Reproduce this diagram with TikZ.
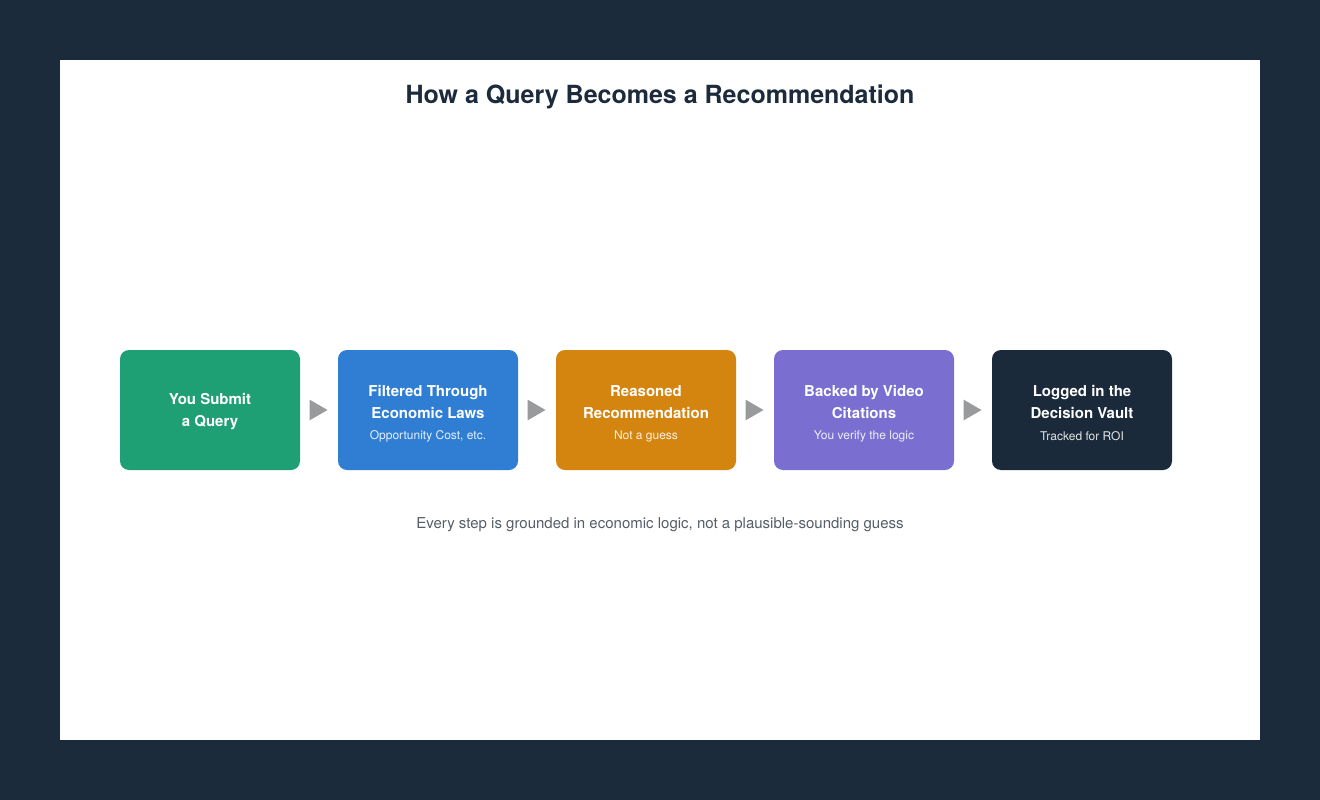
\documentclass[tikz,border=0pt]{standalone}
\usepackage{fontspec}
\setmainfont{TeX Gyre Heros}
\usetikzlibrary{shapes.geometric}
\definecolor{navy}{HTML}{1C2B3B}
\definecolor{cgreen}{HTML}{1F9F74}
\definecolor{cblue}{HTML}{2F7ED4}
\definecolor{corange}{HTML}{D4850F}
\definecolor{cpurple}{HTML}{7A6FD1}
\definecolor{cdark}{HTML}{1B2A3B}
\definecolor{arrowgray}{HTML}{999A9C}
\definecolor{capgray}{HTML}{555E68}
\tikzset{
  stepbox/.style={rounded corners=9pt, minimum width=180pt, minimum height=120pt, inner sep=0pt, text=white, align=center},
  maintxt/.style={font=\fontsize{15}{22}\selectfont\bfseries, text=white, align=center},
  subtxt/.style={font=\fontsize{12}{14}\selectfont, text=white, opacity=0.88},
  arrowtri/.style={isosceles triangle, isosceles triangle apex angle=60, fill=arrowgray, minimum height=18pt, inner sep=0pt, draw=none, xshift=-3.5pt}
}
\begin{document}
\begin{tikzpicture}[x=1pt,y=-1pt]
\useasboundingbox (0,0) rectangle (1320,800);
\fill[navy] (0,0) rectangle (1320,800);
\fill[white] (60,60) rectangle (1260,740);
\node[font=\fontsize{25}{28}\selectfont\bfseries, text=navy] (title) at (660,97) {How a Query Becomes a Recommendation};

\node[stepbox, fill=cgreen] (b1) at (210,410) {};
\node[stepbox, fill=cblue] (b2) at (428,410) {};
\node[stepbox, fill=corange] (b3) at (646,410) {};
\node[stepbox, fill=cpurple] (b4) at (864,410) {};
\node[stepbox, fill=cdark] (b5) at (1082,410) {};

\node[maintxt] (t1) at (210,412) {You Submit\\a Query};
\node[maintxt] (t2) at (428,402) {Filtered Through\\Economic Laws};
\node[subtxt] (s2) at (428,436) {Opportunity Cost, etc.};
\node[maintxt] (t3) at (646,402) {Reasoned\\Recommendation};
\node[subtxt] (s3) at (646,436) {Not a guess};
\node[maintxt] (t4) at (864,402) {Backed by Video\\Citations};
\node[subtxt] (s4) at (864,436) {You verify the logic};
\node[maintxt] (t5) at (1082,402) {Logged in the\\Decision Vault};
\node[subtxt] (s5) at (1082,436) {Tracked for ROI};

\path (b1.east) -- (b2.west) node[midway, arrowtri] (a1) {};
\path (b2.east) -- (b3.west) node[midway, arrowtri] (a2) {};
\path (b3.east) -- (b4.west) node[midway, arrowtri] (a3) {};
\path (b4.east) -- (b5.west) node[midway, arrowtri] (a4) {};

\node[font=\fontsize{15}{18}\selectfont, text=capgray] (cap) at (660,525) {Every step is grounded in economic logic, not a plausible-sounding guess};
\end{tikzpicture}
\end{document}
